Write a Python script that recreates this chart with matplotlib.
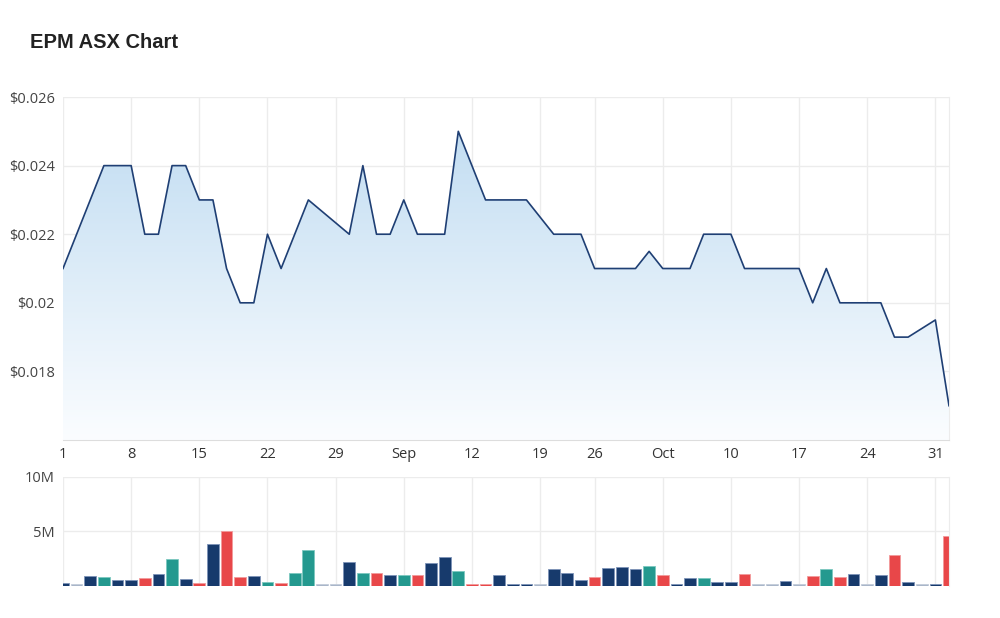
import numpy as np
import pandas as pd
import matplotlib
matplotlib.use('Agg')
import matplotlib.pyplot as plt
from matplotlib.ticker import FuncFormatter

# trading days Aug 1 - Nov 1 2022 (ASX closed on Sep 22)
trade_dates = pd.bdate_range('2022-08-01', '2022-11-01').drop(pd.Timestamp('2022-09-22'))

# closing price, None where the chart just joins the neighbours
prices = [0.021, None, 0.023, 0.024, 0.024, 0.024, 0.022, 0.022, 0.024, 0.024,
          0.023, 0.023, 0.021, 0.020, 0.020, 0.022, 0.021, 0.022, 0.023, None,
          None, 0.022, 0.024, 0.022, 0.022, 0.023, 0.022, 0.022, 0.022, 0.025,
          0.024, 0.023, 0.023, 0.023, 0.023, None, 0.022, 0.022, 0.022, 0.021,
          0.021, 0.021, 0.021, 0.0215, 0.021, 0.021, 0.021, 0.022, 0.022, 0.022,
          0.021, 0.021, 0.021, 0.021, 0.021, 0.020, 0.021, 0.020, 0.020, 0.020,
          0.020, 0.019, 0.019, None, 0.0195, 0.017]

# volume in millions of shares
volumes = [0.25, 0, 0.96, 0.83, 0.56, 0.56, 0.77, 1.14, 2.47, 0.65,
           0.28, 3.83, 5.03, 0.83, 0.96, 0.34, 0.25, 1.23, 3.33, 0,
           0, 2.22, 1.2, 1.2, 1.02, 1.02, 1.02, 2.1, 2.62, 1.33,
           0.22, 0.22, 1.02, 0.22, 0.22, 0, 1.54, 1.2, 0.52, 0.8,
           1.64, 1.73, 1.54, 1.82, 1.02, 0.15, 0.74, 0.74, 0.34, 0.34,
           1.14, 0, 0, 0.43, 0, 0.93, 1.54, 0.83, 1.14, 0,
           1.02, 2.84, 0.34, 0, 0.15, 4.63]

# day move: u = up, d = down, f = flat, n = no trades
moves = ['f', 'n', 'f', 'u', 'f', 'f', 'd', 'f', 'u', 'f',
         'd', 'f', 'd', 'd', 'f', 'u', 'd', 'u', 'u', 'n',
         'n', 'f', 'u', 'd', 'f', 'u', 'd', 'f', 'f', 'u',
         'd', 'd', 'f', 'f', 'f', 'n', 'f', 'f', 'f', 'd',
         'f', 'f', 'f', 'u', 'd', 'f', 'f', 'u', 'f', 'f',
         'd', 'n', 'n', 'f', 'n', 'd', 'u', 'd', 'f', 'n',
         'f', 'd', 'f', 'n', 'f', 'd']

price_ticks = [0.018, 0.020, 0.022, 0.024, 0.026]
volume_ticks = [5, 10]

move_colors = {'u': '#24998f', 'd': '#e84749', 'f': '#173a6c', 'n': '#a9b6c9'}
edge_colors = {'u': '#7cc8c0', 'd': '#f29a9b', 'f': '#7d93b8', 'n': '#c3ccda'}
grid_color = '#ececec'
text_color = '#444444'

plt.rcParams['font.family'] = ['Open Sans', 'DejaVu Sans']


def monday_ticks(dates):
  """Positions and labels for the weekly ticks (month name on its first Monday)."""
  positions, labels = [], []
  for i, d in enumerate(dates):
    if d.weekday() == 0:
      if positions and d.day <= 7:
        labels.append(d.strftime('%b'))
      else:
        labels.append(str(d.day))
      positions.append(i)
  return positions, labels


def price_label(v, pos):
  return '$' + ('%.3f' % v).rstrip('0')


x = np.arange(len(trade_dates))
px = np.array([i for i, p in enumerate(prices) if p is not None])
py = np.array([p for p in prices if p is not None])
tick_pos, tick_lab = monday_ticks(trade_dates)

fig = plt.figure(figsize=(10, 6.18), dpi=100)
fig.text(0.030, 0.932, 'EPM ASX Chart', fontsize=14.5, fontweight='bold',
         color='#222222', family=['Liberation Sans', 'DejaVu Sans'], va='center')

# price panel
ax = fig.add_axes([0.063, 0.288, 0.886, 0.555])
ax.set_xlim(0, len(x) - 1)
ax.set_ylim(0.016, 0.026)

poly = ax.fill_between(px, py, 0.016, color='none', lw=0)
grad = np.linspace(0, 1, 256).reshape(-1, 1)
cmap = matplotlib.colors.LinearSegmentedColormap.from_list('fade', ['#fbfdff', '#c2ddf2'])
img = ax.imshow(grad, cmap=cmap, aspect='auto', origin='lower',
                extent=[0, len(x) - 1, 0.016, 0.0252], zorder=1)
img.set_clip_path(poly.get_paths()[0], transform=ax.transData)
ax.plot(px, py, color='#1f3f74', lw=1.2, zorder=3)

ax.set_yticks(price_ticks)
ax.yaxis.set_major_formatter(FuncFormatter(price_label))
ax.set_xticks(tick_pos)
ax.set_xticklabels(tick_lab)
ax.grid(True, color=grid_color, lw=1, zorder=0)
ax.set_axisbelow(True)
ax.tick_params(length=0, labelsize=10.5, colors=text_color, pad=6)
ax.tick_params(axis='x', pad=5, colors='#333333')
for side in ['top', 'left']:
  ax.spines[side].set_visible(False)
ax.spines['bottom'].set_color('#dddddd')
ax.spines['right'].set_color(grid_color)

# volume panel
vax = fig.add_axes([0.063, 0.0518, 0.886, 0.1764])
vax.set_xlim(0, len(x) - 1)
vax.set_ylim(0, 10)
heights = [v if v > 0 else 0.18 for v in volumes]
vax.bar(x, heights, width=0.86,
        color=[move_colors[m] for m in moves],
        edgecolor=[edge_colors[m] for m in moves], linewidth=0.6, zorder=2)
vax.set_yticks(volume_ticks)
vax.set_yticklabels(['%dM' % t for t in volume_ticks])
vax.set_xticks(tick_pos)
vax.set_xticklabels([])
vax.grid(True, color=grid_color, lw=1, zorder=0)
vax.set_axisbelow(True)
vax.tick_params(length=0, labelsize=10.5, colors=text_color, pad=6)
for side in ['top', 'left', 'bottom']:
  vax.spines[side].set_visible(False)
vax.spines['right'].set_color(grid_color)

fig.savefig('out.png', dpi=100)
